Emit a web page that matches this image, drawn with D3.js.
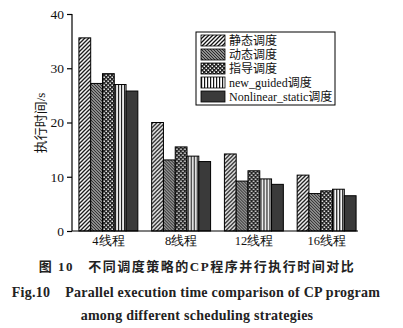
<!DOCTYPE html>
<html>
<head>
<meta charset="utf-8">
<script src="https://cdn.jsdelivr.net/npm/d3@7"></script>
<style>
  body { margin: 0; background: #fff; }
  svg { display: block; }
  .tick text { font-family: "Liberation Serif", "Times New Roman", serif; }
</style>
</head>
<body>
<script>
"use strict";

// ----------------------------------------
//  Data
// ----------------------------------------
const threads = ["4线程", "8线程", "12线程", "16线程"];
const strategies = ["静态调度", "动态调度", "指导调度", "new_guided调度", "Nonlinear_static调度"];
const staticTimes    = [35.6, 20.0, 14.2, 10.3];
const dynamicTimes   = [27.2, 13.1,  9.2,  6.9];
const guidedTimes    = [29.0, 15.5, 11.1,  7.4];
const newGuidedTimes = [27.0, 13.8,  9.6,  7.7];
const nonlinearTimes = [25.8, 12.8,  8.6,  6.5];
const yTicks = [0, 10, 20, 30, 40];

const series = [staticTimes, dynamicTimes, guidedTimes, newGuidedTimes, nonlinearTimes];

const width = 403, height = 328;
const svg = d3.select("body").append("svg")
    .attr("width", width)
    .attr("height", height);

// ----------------------------------------
//  Fill patterns, one per strategy
// ----------------------------------------
const defs = svg.append("defs");

function hatch(id, size, bg, draw) {
    const p = defs.append("pattern")
        .attr("id", id)
        .attr("patternUnits", "userSpaceOnUse")
        .attr("width", size).attr("height", size);
    p.append("rect").attr("width", size).attr("height", size).attr("fill", bg);
    draw(p);
}

// forward slashes
hatch("p0", 4, "#fff", p => {
    p.append("path").attr("d", "M-1,1 L1,-1 M0,4 L4,0 M3,5 L5,3")
        .attr("stroke", "#111").attr("stroke-width", 1.3);
});
// dense back slashes
hatch("p1", 3, "#bbb", p => {
    p.append("path").attr("d", "M-1,-1 L4,4 M-1,2 L1,4 M2,-1 L4,1")
        .attr("stroke", "#222").attr("stroke-width", 1.1);
});
// dotted check
hatch("p2", 4, "#222", p => {
    p.append("rect").attr("x", 0.5).attr("y", 0.5).attr("width", 1.5).attr("height", 1.5).attr("fill", "#eee");
    p.append("rect").attr("x", 2.5).attr("y", 2.5).attr("width", 1.5).attr("height", 1.5).attr("fill", "#eee");
});
// vertical stripes
hatch("p3", 3, "#fff", p => {
    p.append("rect").attr("x", 0).attr("width", 1.2).attr("height", 3).attr("fill", "#111");
});

const fills = ["url(#p0)", "url(#p1)", "url(#p2)", "url(#p3)", "#3a3a3a"];

// ----------------------------------------
//  Scales
// ----------------------------------------
const plotLeft = 72, plotRight = 358, plotTop = 14, plotBottom = 231;

const x0 = d3.scaleBand()
    .domain(threads)
    .range([plotLeft, plotLeft + 291])
    .paddingInner(0.19)
    .paddingOuter(0.095);

const x1 = d3.scaleBand()
    .domain(d3.range(series.length))
    .range([0, x0.bandwidth()]);

const y = d3.scaleLinear()
    .domain([0, 40])
    .range([plotBottom, plotTop]);

// ----------------------------------------
//  Bars
// ----------------------------------------
const groups = svg.append("g").selectAll("g")
    .data(threads)
    .join("g")
    .attr("transform", d => "translate(" + x0(d) + ",0)");

groups.selectAll("rect")
    .data((d, i) => series.map((s, k) => ({ k: k, v: s[i] })))
    .join("rect")
    .attr("x", d => x1(d.k))
    .attr("width", x1.bandwidth())
    .attr("y", d => y(d.v))
    .attr("height", d => y(0) - y(d.v))
    .attr("fill", d => fills[d.k])
    .attr("stroke", "#000")
    .attr("stroke-width", 1);

// ----------------------------------------
//  Axes
// ----------------------------------------
const yAxis = svg.append("g")
    .attr("transform", "translate(" + plotLeft + ",0)")
    .call(d3.axisLeft(y).tickValues(yTicks).tickSize(5).tickPadding(3));
yAxis.select(".domain").remove();
yAxis.selectAll("line").attr("stroke-width", 1.2);
yAxis.selectAll("text").attr("font-size", 13.5).attr("fill", "#111");

svg.append("line")
    .attr("x1", plotLeft).attr("x2", plotLeft)
    .attr("y1", plotTop).attr("y2", plotBottom)
    .attr("stroke", "#000").attr("stroke-width", 1.2);
svg.append("line")
    .attr("x1", plotLeft).attr("x2", plotRight)
    .attr("y1", plotBottom).attr("y2", plotBottom)
    .attr("stroke", "#000").attr("stroke-width", 1.2);

const xAxis = svg.append("g")
    .attr("transform", "translate(0," + plotBottom + ")")
    .call(d3.axisBottom(x0).tickSize(0).tickPadding(5));
xAxis.select(".domain").remove();
xAxis.selectAll("text")
    .attr("font-size", 12.5)
    .attr("fill", "#111")
    .attr("font-family", "'Liberation Serif', 'Noto Sans CJK SC', serif");

svg.append("text")
    .attr("transform", "translate(45,123) rotate(-90)")
    .attr("text-anchor", "middle")
    .attr("font-size", 13)
    .attr("font-family", "'Liberation Serif', 'Noto Sans CJK SC', serif")
    .attr("fill", "#111")
    .text("执行时间/s");

// ----------------------------------------
//  Legend
// ----------------------------------------
const legend = svg.append("g").attr("transform", "translate(196,32)");
legend.append("rect")
    .attr("width", 139).attr("height", 73)
    .attr("fill", "#fff").attr("stroke", "#000").attr("stroke-width", 1);

const items = legend.selectAll("g.item")
    .data(strategies)
    .join("g")
    .attr("class", "item")
    .attr("transform", (d, i) => "translate(5," + (3 + i * 14) + ")");

items.append("rect")
    .attr("width", 24).attr("height", 11)
    .attr("fill", (d, i) => fills[i])
    .attr("stroke", "#000").attr("stroke-width", 0.8);

items.append("text")
    .attr("x", 28).attr("y", 10)
    .attr("font-size", 12)
    .attr("font-family", "'Liberation Serif', 'Noto Sans CJK SC', serif")
    .attr("fill", "#111")
    .text(d => d);

// ----------------------------------------
//  Caption
// ----------------------------------------
const caption = svg.append("g")
    .attr("font-family", "'Liberation Serif', 'Noto Sans CJK SC', serif")
    .attr("font-weight", "bold")
    .attr("fill", "#222")
    .attr("text-anchor", "middle");

caption.append("text")
    .attr("x", 197).attr("y", 271)
    .attr("font-size", 13)
    .attr("letter-spacing", 1.5)
    .attr("xml:space", "preserve")
    .text("图 10   不同调度策略的CP程序并行执行时间对比");

caption.append("text")
    .attr("x", 196).attr("y", 297)
    .attr("font-size", 14)
    .attr("letter-spacing", 0.25)
    .attr("xml:space", "preserve")
    .text("Fig.10    Parallel execution time comparison of CP program");

caption.append("text")
    .attr("x", 197).attr("y", 320)
    .attr("font-size", 14)
    .attr("letter-spacing", 0.25)
    .text("among different scheduling strategies");
</script>
</body>
</html>
